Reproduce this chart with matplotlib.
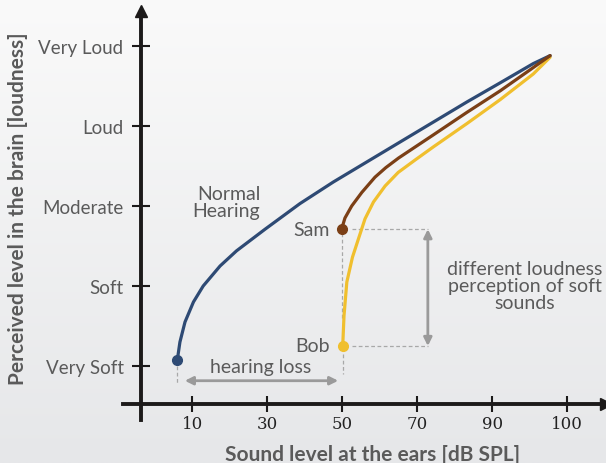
import numpy as np
import matplotlib
matplotlib.use("Agg")
import matplotlib.pyplot as plt

# level scale: 1 = Very Soft ... 5 = Very Loud
level_names = ["Very Soft", "Soft", "Moderate", "Loud", "Very Loud"]
level_vals = [1, 2, 3, 4, 5]
x_tick_pos = [10, 30, 50, 70, 90, 110]
x_tick_labels = ["10", "30", "50", "70", "90", "100"]

# curves (dB position, loudness level)
normal_db = [6.0, 6.7, 8.05, 10.3, 12.9, 17.4, 21.8, 29.4, 38.7, 47.6, 56.5, 65.4, 74.3, 83.2, 92.1, 100.9, 105.4]
normal_lvl = [1.075, 1.30, 1.55, 1.80, 2.00, 2.25, 2.44, 2.71, 3.03, 3.30, 3.55, 3.80, 4.05, 4.30, 4.54, 4.78, 4.88]

sam_db = [49.8, 50.7, 52.5, 55.2, 58.7, 61.6, 65.0, 74.3, 83.2, 92.1, 100.9, 105.4]
sam_lvl = [2.71, 2.85, 3.00, 3.17, 3.36, 3.48, 3.60, 3.89, 4.17, 4.44, 4.73, 4.88]

bob_db = [50.1, 50.45, 51.2, 52.7, 54.3, 56.05, 58.3, 61.4, 64.9, 69.4, 74.3, 83.2, 92.1, 100.9, 105.4]
bob_lvl = [1.25, 1.63, 2.05, 2.36, 2.59, 2.84, 3.05, 3.25, 3.42, 3.575, 3.74, 4.03, 4.33, 4.65, 4.86]

c_normal = "#2e4a74"
c_sam = "#7b3f16"
c_bob = "#f0bf2e"
c_text = "#5a5a5a"
c_guide = "#a8a8a8"
c_arrow = "#9a9a9a"
c_axis = "#1c1a1a"

plt.rcParams['font.family'] = ['Lato', 'DejaVu Sans']

W, H = 606, 464
fig = plt.figure(figsize=(W / 100, H / 100), dpi=100)

# soft grey gradient background
bg = fig.add_axes([0, 0, 1, 1], zorder=-10)
grad = np.linspace(0, 1, 256).reshape(-1, 1)
top = np.array([250, 250, 250]) / 255
bot = np.array([230, 231, 233]) / 255
img = top + (bot - top) * grad[:, :, None]
bg.imshow(img, aspect='auto', extent=[0, 1, 0, 1])
bg.axis('off')

# main axes: pixel box 123..606 x 12..421
ax = fig.add_axes([123 / W, 1 - 421 / H, (606 - 123) / W, (421 - 12) / H])
ax.set_facecolor('none')
ax.set_xlim(-8.48, 120.3)
ax.set_ylim(0.325, 5.4375)

x0, y0 = -3.7, 0.525
ax.spines['left'].set_position(('data', x0))
ax.spines['bottom'].set_position(('data', y0))
for s in ['top', 'right']:
    ax.spines[s].set_visible(False)
for s in ['left', 'bottom']:
    ax.spines[s].set_linewidth(2.8)
    ax.spines[s].set_color(c_axis)
ax.spines['left'].set_bounds(0.325, 5.4)
ax.spines['bottom'].set_bounds(-8.48, 119.5)

ax.set_yticks(level_vals)
ax.set_yticklabels(level_names)
ax.set_xticks(x_tick_pos)
ax.set_xticklabels(x_tick_labels, family='DejaVu Serif')
ax.tick_params(axis='y', direction='inout', length=13, width=1.5, color=c_axis,
               labelsize=13.5, labelcolor=c_text, pad=6)
ax.tick_params(axis='x', direction='inout', length=12, width=1.5, color=c_axis,
               labelsize=12, labelcolor='#222222', pad=2)

# arrow heads on the axes
ax.plot([x0], [1.0], marker='^', color=c_axis, markersize=9, clip_on=False,
        transform=ax.get_xaxis_transform())
ax.plot([1.0], [y0], marker='>', color=c_axis, markersize=9, clip_on=False,
        transform=ax.get_yaxis_transform())

# curves
ax.plot(normal_db, normal_lvl, color=c_normal, lw=2.3, solid_capstyle='round',
        solid_joinstyle='round', zorder=5)
ax.plot(bob_db, bob_lvl, color=c_bob, lw=2.3, solid_capstyle='round',
        solid_joinstyle='round', zorder=4)
ax.plot(sam_db, sam_lvl, color=c_sam, lw=2.3, solid_capstyle='round',
        solid_joinstyle='round', zorder=5)
ax.plot(normal_db[0], normal_lvl[0], 'o', color=c_normal, ms=7, zorder=6)
ax.plot(sam_db[0], sam_lvl[0], 'o', color=c_sam, ms=7, zorder=6)
ax.plot(bob_db[0], bob_lvl[0], 'o', color=c_bob, ms=7, zorder=6)

# dashed guides
dash = dict(color=c_guide, lw=0.9, ls=(0, (3, 2)), zorder=2)
ax.plot([normal_db[0], normal_db[0]], [1.0, 0.78], **dash)
ax.plot([bob_db[0], bob_db[0]], [1.15, 0.9], **dash)
ax.plot([sam_db[0] + 0.2, sam_db[0] + 0.2], [2.66, 1.59], **dash)
ax.plot([52.6, 72.8], [sam_lvl[0], sam_lvl[0]], **dash)
ax.plot([52.6, 72.8], [bob_lvl[0], bob_lvl[0]], **dash)

arr = dict(arrowstyle='<|-|>', color=c_arrow, lw=2, mutation_scale=12,
           shrinkA=0, shrinkB=0)
ax.annotate('', xy=(8.0, 0.816), xytext=(48.9, 0.816), arrowprops=arr)
ax.annotate('', xy=(72.8, sam_lvl[0]), xytext=(72.8, bob_lvl[0]), arrowprops=arr)

# text labels
ax.text(28.1, 3.05, "Normal\nHearing", ha='right', va='center', fontsize=14,
        color=c_text, linespacing=1.0)
ax.text(46.7, sam_lvl[0], "Sam", ha='right', va='center', fontsize=14, color=c_text)
ax.text(46.7, bob_lvl[0], "Bob", ha='right', va='center', fontsize=14, color=c_text)
ax.text(28.1, 0.99, "hearing loss", ha='center', va='center', fontsize=14, color=c_text)
ax.text(98.7, 2.0, "different loudness\nperception of soft\nsounds", ha='center',
        va='center', fontsize=14, color=c_text, linespacing=1.0)

fig.text(373 / W, 1 - 455 / H, "Sound level at the ears [dB SPL]", ha='center',
         va='center', fontsize=15, fontweight='bold', color=c_text)
fig.text(18 / W, 1 - 209 / H, "Perceived level in the brain [loudness]", ha='center',
         va='center', rotation=90, fontsize=15, fontweight='bold', color=c_text)

fig.savefig("out.png", dpi=100)
